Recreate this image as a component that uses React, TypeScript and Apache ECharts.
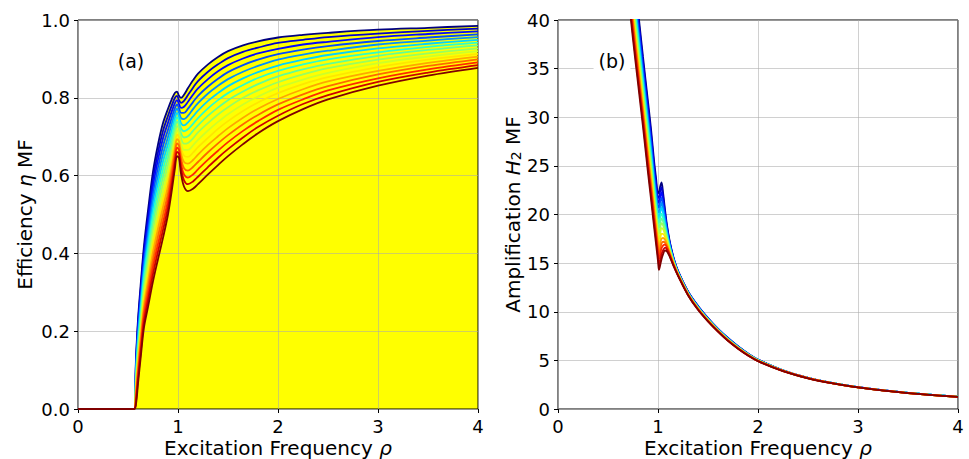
import React, { useEffect, useRef } from 'react';
import * as echarts from 'echarts';

const FONT = "'DejaVu Sans', sans-serif";

// ---------- panel (a): efficiency eta MF vs excitation frequency rho ----------
const rhoEta = [0, 0.56, 0.58, 0.6, 0.63, 0.66, 0.7, 0.75, 0.8, 0.85, 0.9, 0.94, 0.97, 0.99, 1.01, 1.03, 1.06, 1.1, 1.15, 1.2, 1.3, 1.4, 1.5, 1.65, 1.8, 2.0, 2.25, 2.5, 3.0, 3.5, 4.0];

const eta00 = [0, 0, 0.130, 0.230, 0.330, 0.420, 0.510, 0.610, 0.680, 0.735, 0.772, 0.798, 0.813, 0.816, 0.805, 0.800, 0.808, 0.825, 0.845, 0.862, 0.886, 0.905, 0.920, 0.935, 0.945, 0.955, 0.962, 0.967, 0.975, 0.980, 0.985];
const eta01 = [0, 0, 0.122, 0.219, 0.317, 0.406, 0.493, 0.591, 0.660, 0.715, 0.754, 0.782, 0.800, 0.805, 0.794, 0.787, 0.792, 0.807, 0.826, 0.843, 0.867, 0.886, 0.902, 0.918, 0.929, 0.941, 0.949, 0.956, 0.965, 0.972, 0.978];
const eta02 = [0, 0, 0.114, 0.208, 0.305, 0.392, 0.477, 0.572, 0.641, 0.696, 0.736, 0.767, 0.787, 0.794, 0.784, 0.774, 0.777, 0.790, 0.808, 0.824, 0.848, 0.868, 0.884, 0.901, 0.914, 0.926, 0.937, 0.944, 0.956, 0.964, 0.971];
const eta03 = [0, 0, 0.107, 0.197, 0.292, 0.378, 0.460, 0.554, 0.621, 0.676, 0.718, 0.751, 0.774, 0.783, 0.773, 0.761, 0.761, 0.772, 0.789, 0.805, 0.829, 0.849, 0.866, 0.884, 0.898, 0.912, 0.924, 0.933, 0.946, 0.955, 0.963];
const eta04 = [0, 0, 0.099, 0.186, 0.279, 0.364, 0.444, 0.535, 0.601, 0.656, 0.699, 0.736, 0.762, 0.772, 0.762, 0.748, 0.745, 0.754, 0.771, 0.786, 0.811, 0.831, 0.848, 0.867, 0.882, 0.898, 0.911, 0.921, 0.937, 0.947, 0.956];
const eta05 = [0, 0, 0.091, 0.175, 0.267, 0.350, 0.427, 0.516, 0.582, 0.637, 0.681, 0.720, 0.749, 0.761, 0.752, 0.735, 0.729, 0.737, 0.752, 0.767, 0.792, 0.812, 0.830, 0.850, 0.866, 0.883, 0.898, 0.910, 0.927, 0.939, 0.949];
const eta06 = [0, 0, 0.083, 0.164, 0.254, 0.336, 0.411, 0.497, 0.562, 0.617, 0.663, 0.705, 0.736, 0.750, 0.741, 0.722, 0.714, 0.719, 0.733, 0.748, 0.773, 0.794, 0.812, 0.833, 0.851, 0.869, 0.886, 0.899, 0.917, 0.931, 0.942];
const eta07 = [0, 0, 0.075, 0.153, 0.241, 0.322, 0.394, 0.478, 0.542, 0.597, 0.645, 0.689, 0.723, 0.739, 0.730, 0.709, 0.698, 0.701, 0.715, 0.729, 0.754, 0.775, 0.794, 0.816, 0.835, 0.855, 0.873, 0.887, 0.908, 0.923, 0.935];
const eta08 = [0, 0, 0.068, 0.142, 0.229, 0.308, 0.378, 0.460, 0.523, 0.578, 0.627, 0.674, 0.710, 0.727, 0.720, 0.696, 0.682, 0.684, 0.696, 0.711, 0.735, 0.757, 0.776, 0.800, 0.819, 0.840, 0.860, 0.876, 0.898, 0.914, 0.927];
const eta09 = [0, 0, 0.060, 0.131, 0.216, 0.294, 0.361, 0.441, 0.503, 0.558, 0.609, 0.658, 0.697, 0.716, 0.709, 0.683, 0.666, 0.666, 0.678, 0.692, 0.716, 0.738, 0.758, 0.783, 0.803, 0.826, 0.847, 0.864, 0.889, 0.906, 0.920];
const eta10 = [0, 0, 0.052, 0.120, 0.203, 0.280, 0.345, 0.422, 0.483, 0.538, 0.591, 0.643, 0.684, 0.705, 0.698, 0.670, 0.651, 0.648, 0.659, 0.673, 0.697, 0.720, 0.740, 0.766, 0.788, 0.812, 0.835, 0.853, 0.879, 0.898, 0.913];
const eta11 = [0, 0, 0.044, 0.109, 0.191, 0.266, 0.328, 0.403, 0.464, 0.519, 0.573, 0.627, 0.671, 0.694, 0.688, 0.657, 0.635, 0.631, 0.640, 0.654, 0.679, 0.701, 0.722, 0.749, 0.772, 0.797, 0.822, 0.842, 0.869, 0.890, 0.906];
const eta12 = [0, 0, 0.036, 0.098, 0.178, 0.252, 0.312, 0.384, 0.444, 0.499, 0.554, 0.612, 0.659, 0.683, 0.677, 0.644, 0.619, 0.613, 0.622, 0.635, 0.660, 0.683, 0.704, 0.732, 0.756, 0.783, 0.809, 0.830, 0.860, 0.882, 0.899];
const eta13 = [0, 0, 0.029, 0.087, 0.165, 0.238, 0.295, 0.366, 0.424, 0.479, 0.536, 0.596, 0.646, 0.672, 0.666, 0.631, 0.603, 0.595, 0.603, 0.616, 0.641, 0.664, 0.686, 0.715, 0.740, 0.769, 0.796, 0.819, 0.850, 0.873, 0.891];
const eta14 = [0, 0, 0.021, 0.076, 0.153, 0.224, 0.279, 0.347, 0.405, 0.460, 0.518, 0.581, 0.633, 0.661, 0.656, 0.618, 0.588, 0.578, 0.585, 0.597, 0.622, 0.646, 0.668, 0.698, 0.725, 0.754, 0.784, 0.807, 0.841, 0.865, 0.884];
const eta15 = [0, 0, 0.013, 0.065, 0.140, 0.210, 0.262, 0.328, 0.385, 0.440, 0.500, 0.565, 0.620, 0.650, 0.645, 0.605, 0.572, 0.560, 0.566, 0.578, 0.603, 0.627, 0.650, 0.681, 0.709, 0.740, 0.771, 0.796, 0.831, 0.857, 0.877];
const etaCurves = [eta00, eta01, eta02, eta03, eta04, eta05, eta06, eta07, eta08, eta09, eta10, eta11, eta12, eta13, eta14, eta15];

// ---------- panel (b): amplification H2 MF vs excitation frequency rho ----------
const rhoH = [0.65, 0.7, 0.75, 0.8, 0.85, 0.9, 0.93, 0.96, 0.98, 1.0, 1.01, 1.02, 1.035, 1.05, 1.07, 1.09, 1.12, 1.16, 1.2, 1.3, 1.4, 1.5, 1.6, 1.7, 1.8, 1.9, 2.0, 2.25, 2.5, 2.75, 3.0, 3.5, 4.0];

const h00 = [58.0, 51.0, 45.8, 41.0, 36.2, 31.6, 28.8, 25.6, 23.8, 22.2, 22.3, 22.8, 23.3, 22.3, 20.5, 18.9, 17.1, 15.4, 14.2, 12.1, 10.6, 9.35, 8.25, 7.3, 6.45, 5.7, 5.08, 3.97, 3.2, 2.66, 2.24, 1.65, 1.26];
const h01 = [57.4, 50.5, 45.3, 40.5, 35.7, 31.1, 28.3, 25.1, 23.3, 21.7, 21.8, 22.3, 22.8, 21.9, 20.2, 18.7, 17.0, 15.35, 14.17, 12.07, 10.57, 9.33, 8.23, 7.28, 6.43, 5.69, 5.07, 3.97, 3.2, 2.66, 2.24, 1.65, 1.26];
const h02 = [56.7, 49.9, 44.8, 40.0, 35.2, 30.6, 27.8, 24.7, 22.9, 21.3, 21.2, 21.7, 22.3, 21.4, 19.9, 18.5, 16.9, 15.29, 14.13, 12.05, 10.55, 9.30, 8.21, 7.26, 6.42, 5.67, 5.06, 3.96, 3.19, 2.66, 2.24, 1.65, 1.26];
const h03 = [56.1, 49.4, 44.2, 39.5, 34.8, 30.1, 27.4, 24.2, 22.4, 20.8, 20.7, 21.2, 21.7, 21.0, 19.7, 18.4, 16.8, 15.24, 14.1, 12.02, 10.52, 9.28, 8.19, 7.24, 6.4, 5.66, 5.05, 3.96, 3.19, 2.65, 2.24, 1.65, 1.26];
const h04 = [55.5, 48.9, 43.7, 39.0, 34.3, 29.7, 26.9, 23.8, 22.0, 20.3, 20.2, 20.6, 21.2, 20.6, 19.4, 18.2, 16.7, 15.19, 14.07, 11.99, 10.49, 9.26, 8.17, 7.22, 6.38, 5.65, 5.04, 3.95, 3.19, 2.65, 2.23, 1.65, 1.26];
const h05 = [54.8, 48.3, 43.2, 38.5, 33.8, 29.2, 26.4, 23.3, 21.5, 19.9, 19.6, 20.1, 20.7, 20.2, 19.1, 18.0, 16.6, 15.13, 14.03, 11.97, 10.47, 9.23, 8.15, 7.2, 6.37, 5.63, 5.03, 3.95, 3.19, 2.65, 2.23, 1.65, 1.26];
const h06 = [54.2, 47.8, 42.7, 38.0, 33.3, 28.7, 25.9, 22.9, 21.1, 19.4, 19.1, 19.6, 20.1, 19.7, 18.8, 17.8, 16.5, 15.08, 14.0, 11.94, 10.44, 9.21, 8.13, 7.18, 6.35, 5.62, 5.02, 3.94, 3.18, 2.65, 2.23, 1.65, 1.26];
const h07 = [53.6, 47.3, 42.2, 37.5, 32.8, 28.2, 25.4, 22.4, 20.6, 18.9, 18.6, 19.0, 19.6, 19.3, 18.5, 17.6, 16.4, 15.03, 13.97, 11.91, 10.41, 9.19, 8.11, 7.16, 6.33, 5.61, 5.01, 3.94, 3.18, 2.65, 2.23, 1.65, 1.26];
const h08 = [52.9, 46.7, 41.6, 37.0, 32.4, 27.7, 25.0, 22.0, 20.2, 18.5, 18.0, 18.5, 19.1, 18.9, 18.3, 17.5, 16.3, 14.97, 13.93, 11.89, 10.39, 9.16, 8.09, 7.14, 6.32, 5.59, 4.99, 3.93, 3.18, 2.64, 2.23, 1.64, 1.25];
const h09 = [52.3, 46.2, 41.1, 36.5, 31.9, 27.2, 24.5, 21.5, 19.7, 18.0, 17.5, 17.9, 18.6, 18.5, 18.0, 17.3, 16.2, 14.92, 13.9, 11.86, 10.36, 9.14, 8.07, 7.12, 6.3, 5.58, 4.98, 3.93, 3.18, 2.64, 2.23, 1.64, 1.25];
const h10 = [51.7, 45.7, 40.6, 36.0, 31.4, 26.7, 24.0, 21.1, 19.3, 17.5, 17.0, 17.4, 18.0, 18.0, 17.7, 17.1, 16.1, 14.87, 13.87, 11.83, 10.33, 9.12, 8.05, 7.1, 6.28, 5.57, 4.97, 3.92, 3.17, 2.64, 2.23, 1.64, 1.25];
const h11 = [51.0, 45.1, 40.1, 35.5, 30.9, 26.2, 23.5, 20.6, 18.8, 17.1, 16.4, 16.9, 17.5, 17.6, 17.4, 16.9, 16.0, 14.81, 13.83, 11.81, 10.31, 9.09, 8.03, 7.08, 6.27, 5.55, 4.96, 3.92, 3.17, 2.64, 2.23, 1.64, 1.25];
const h12 = [50.4, 44.6, 39.6, 35.0, 30.4, 25.8, 23.0, 20.2, 18.4, 16.6, 15.9, 16.3, 17.0, 17.2, 17.1, 16.7, 15.9, 14.76, 13.8, 11.78, 10.28, 9.07, 8.01, 7.06, 6.25, 5.54, 4.95, 3.91, 3.17, 2.64, 2.22, 1.64, 1.25];
const h13 = [49.8, 44.1, 39.0, 34.5, 30.0, 25.3, 22.6, 19.7, 17.9, 16.1, 15.4, 15.8, 16.5, 16.8, 16.9, 16.6, 15.8, 14.71, 13.77, 11.75, 10.25, 9.05, 7.99, 7.04, 6.23, 5.53, 4.94, 3.91, 3.17, 2.63, 2.22, 1.64, 1.25];
const h14 = [49.1, 43.5, 38.5, 34.0, 29.5, 24.8, 22.1, 19.3, 17.5, 15.7, 14.8, 15.2, 15.9, 16.3, 16.6, 16.4, 15.7, 14.65, 13.73, 11.73, 10.23, 9.02, 7.97, 7.02, 6.22, 5.51, 4.93, 3.9, 3.16, 2.63, 2.22, 1.64, 1.25];
const h15 = [48.5, 43.0, 38.0, 33.5, 29.0, 24.3, 21.6, 18.8, 17.0, 15.2, 14.3, 14.7, 15.4, 15.9, 16.3, 16.2, 15.6, 14.6, 13.7, 11.7, 10.2, 9.0, 7.95, 7.0, 6.2, 5.5, 4.92, 3.9, 3.16, 2.63, 2.22, 1.64, 1.25];
const hCurves = [h00, h01, h02, h03, h04, h05, h06, h07, h08, h09, h10, h11, h12, h13, h14, h15];

// jet colormap, from first (top) to last (bottom) curve
const curveColors = ['#000080', '#0000cd', '#0008ff', '#004dff', '#0091ff', '#00d4ff', '#29ffce', '#60ff97', '#97ff60', '#ceff29', '#ffe600', '#ffa700', '#ff6800', '#ff2900', '#cd0000', '#800000'];

const panelLabels = ['(a)', '(b)'];
const xName = 'Excitation Frequency {i|ρ}';
const yNameA = 'Efficiency {i|η} MF';
const yNameB = 'Amplification {i|H}{s|2} MF';

const nameStyle = {
  fontFamily: FONT,
  fontSize: 20,
  lineHeight: 21,
  color: '#000',
  rich: {
    i: { fontFamily: FONT, fontSize: 20, lineHeight: 21, fontStyle: 'italic', color: '#000' },
    s: { fontFamily: FONT, fontSize: 14, color: '#000', verticalAlign: 'bottom' },
  },
};

const gridLine = { show: true, lineStyle: { color: 'rgba(170,170,170,0.55)', width: 1 } };
const tick = { show: true, inside: false, length: 4, lineStyle: { color: '#000', width: 1 } };
const labelStyle = { fontFamily: FONT, fontSize: 18, color: '#000' };
const SMOOTH = 0.35;

function buildOption() {
  const series: any[] = [];
  // yellow region beneath the curves of panel (a)
  series.push({
    type: 'line',
    xAxisIndex: 0,
    yAxisIndex: 0,
    data: rhoEta.map((x, i) => [x, eta00[i]]),
    symbol: 'none',
    smooth: SMOOTH,
    lineStyle: { width: 0, opacity: 0 },
    areaStyle: { color: '#ffff00', opacity: 1 },
    z: 1,
    silent: true,
  });
  etaCurves.forEach((curve, k) => {
    series.push({
      type: 'line',
      xAxisIndex: 0,
      yAxisIndex: 0,
      data: rhoEta.map((x, i) => [x, curve[i]]),
      symbol: 'none',
      smooth: SMOOTH,
      lineStyle: { color: curveColors[k], width: 1.8 },
      z: 3,
      silent: true,
    });
  });
  hCurves.forEach((curve, k) => {
    series.push({
      type: 'line',
      xAxisIndex: 1,
      yAxisIndex: 1,
      data: rhoH.map((x, i) => [x, curve[i]]),
      symbol: 'none',
      smooth: SMOOTH,
      clip: true,
      lineStyle: { color: curveColors[k], width: 1.8 },
      z: 3,
      silent: true,
    });
  });

  const xAxisBase = (gridIndex: number) => ({
    type: 'value',
    gridIndex,
    min: 0,
    max: 4,
    interval: 1,
    axisLine: { show: false },
    axisTick: tick,
    axisLabel: { ...labelStyle, lineHeight: 18, margin: 8 },
    splitLine: gridLine,
    name: xName,
    nameLocation: 'middle',
    nameGap: 28,
    nameMoveOverlap: false,
    nameTextStyle: nameStyle,
    z: 2,
  });

  const gridBase = {
    top: 20,
    width: 400,
    height: 389,
    show: true,
    borderColor: '#000',
    borderWidth: 1,
    backgroundColor: 'transparent',
    containLabel: false,
    outerBoundsMode: 'none',
    z: 2,
  };

  return {
    animation: false,
    backgroundColor: '#ffffff',
    grid: [
      { ...gridBase, left: 78 },
      { ...gridBase, left: 558 },
    ],
    xAxis: [xAxisBase(0), xAxisBase(1)],
    yAxis: [
      {
        type: 'value',
        gridIndex: 0,
        min: 0,
        max: 1,
        interval: 0.2,
        axisLine: { show: false },
        axisTick: tick,
        axisLabel: { ...labelStyle, margin: 8, formatter: (v: number) => v.toFixed(1) },
        splitLine: gridLine,
        name: yNameA,
        nameLocation: 'middle',
        nameGap: 43,
        nameTextStyle: nameStyle,
        z: 2,
      },
      {
        type: 'value',
        gridIndex: 1,
        min: 0,
        max: 40,
        interval: 5,
        axisLine: { show: false },
        axisTick: tick,
        axisLabel: { ...labelStyle, margin: 8 },
        splitLine: gridLine,
        name: yNameB,
        nameLocation: 'middle',
        nameGap: 33,
        nameTextStyle: nameStyle,
        z: 2,
      },
    ],
    graphic: [
      {
        type: 'text',
        x: 131,
        y: 61,
        z: 10,
        style: {
          text: panelLabels[0],
          fill: '#000',
          fontFamily: FONT,
          fontSize: 19,
          align: 'center',
          verticalAlign: 'middle',
          backgroundColor: '#fff',
          padding: [3, 5],
        },
      },
      {
        type: 'text',
        x: 612,
        y: 61,
        z: 10,
        style: {
          text: panelLabels[1],
          fill: '#000',
          fontFamily: FONT,
          fontSize: 19,
          align: 'center',
          verticalAlign: 'middle',
          backgroundColor: '#fff',
          padding: [3, 5],
        },
      },
    ],
    series,
  };
}

export default function App() {
  const ref = useRef<HTMLDivElement>(null);
  useEffect(() => {
    if (!ref.current) return;
    const chart = echarts.init(ref.current, null, { renderer: 'svg' });
    chart.setOption(buildOption() as any);
    return () => chart.dispose();
  }, []);
  return (
    <div
      ref={ref}
      style={{ position: 'fixed', left: 0, top: 0, width: 969, height: 459, background: '#fff' }}
    />
  );
}
